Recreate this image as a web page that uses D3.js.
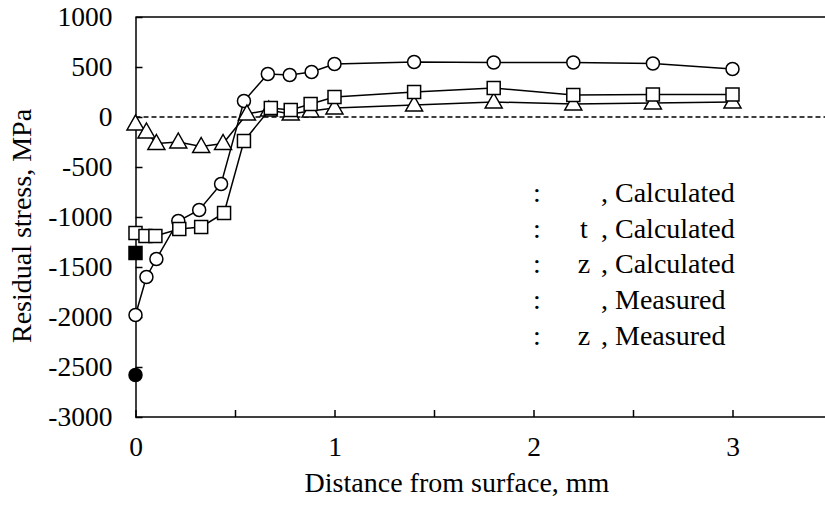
<!DOCTYPE html>
<html>
<head>
<meta charset="utf-8">
<script src="https://cdn.jsdelivr.net/npm/d3@7"></script>
<style>
  html, body { margin: 0; padding: 0; background: #fff; }
  svg { display: block; }
  text { font-family: "Liberation Serif", "Times New Roman", serif; fill: #000; }
</style>
</head>
<body>
<svg id="chart" width="825" height="507"></svg>
<script>
// ---- data ----
const circleX = [0, 0.055, 0.105, 0.215, 0.32, 0.43, 0.545, 0.665, 0.775, 0.885, 1.0, 1.4, 1.8, 2.2, 2.6, 3.0];
const circleY = [-1980, -1600, -1420, -1040, -930, -670, 160, 430, 420, 450, 530, 550, 545, 545, 535, 480];
const squareX = [0, 0.05, 0.1, 0.22, 0.33, 0.445, 0.545, 0.68, 0.78, 0.88, 1.0, 1.4, 1.8, 2.2, 2.6, 3.0];
const squareY = [-1160, -1190, -1190, -1120, -1100, -960, -240, 90, 70, 130, 200, 250, 290, 220, 225, 225];
const triangleX = [0, 0.055, 0.105, 0.215, 0.33, 0.44, 0.56, 0.67, 0.78, 0.88, 1.0, 1.4, 1.8, 2.2, 2.6, 3.0];
const triangleY = [-70, -150, -265, -250, -295, -265, 30, 70, 30, 60, 90, 120, 150, 130, 140, 150];
const measuredSquareX = [0];
const measuredSquareY = [-1360];
const measuredCircleX = [0];
const measuredCircleY = [-2580];

const xTicks = [0, 0.5, 1, 1.5, 2, 2.5, 3, 3.5];
const xTickLabels = ["0", "", "1", "", "2", "", "3", ""];
const yTicks = [-3000, -2500, -2000, -1500, -1000, -500, 0, 500, 1000];
const yTickLabels = ["-3000", "-2500", "-2000", "-1500", "-1000", "-500", "0", "500", "1000"];
const legendSymbols = ["", "t", "z", "", "z"];
const legendTexts = [", Calculated", ", Calculated", ", Calculated", ", Measured", ", Measured"];
const xTitle = "Distance from surface, mm";
const yTitle = "Residual stress, MPa";

// ---- layout ----
const svg = d3.select("#chart");
const x = d3.scaleLinear().domain([0, 3.5]).range([135.5, 832]);
const y = d3.scaleLinear().domain([-3000, 1000]).range([417, 17]);
const FS_TICK = 27.5, FS_LEG = 28, FS_TITLE = 28;

// frame top line
svg.append("line").attr("x1", x(0)).attr("x2", 825).attr("y1", y(1000)).attr("y2", y(1000))
  .attr("stroke", "#000").attr("stroke-width", 1.5);

// zero dashed line
svg.append("line").attr("x1", x(0)).attr("x2", 825).attr("y1", y(0)).attr("y2", y(0))
  .attr("stroke", "#000").attr("stroke-width", 1.3).attr("stroke-dasharray", "5,3");

// axes
const yAxis = svg.append("g").attr("transform", `translate(${x(0)},0)`)
  .call(d3.axisLeft(y).tickValues(yTicks).tickSizeInner(-7).tickSizeOuter(0).tickPadding(23)
    .tickFormat((d, i) => yTickLabels[i]));
const xAxis = svg.append("g").attr("transform", `translate(0,${y(-3000)})`)
  .call(d3.axisBottom(x).tickValues(xTicks).tickSizeInner(-7).tickSizeOuter(0).tickPadding(19)
    .tickFormat((d, i) => xTickLabels[i]));
[yAxis, xAxis].forEach(g => {
  g.selectAll(".domain").attr("stroke", "#000").attr("stroke-width", 1.5);
  g.selectAll(".tick line").attr("stroke", "#000").attr("stroke-width", 1.5);
  g.selectAll(".tick text").style("font-family", '"Liberation Serif", "Times New Roman", serif')
    .style("font-size", FS_TICK + "px").attr("fill", "#000");
});
xAxis.select(".domain").attr("d", `M${x(0)},0H825`);

// titles
svg.append("text").attr("x", 457).attr("y", 492).attr("text-anchor", "middle")
  .style("font-size", FS_TITLE + "px").text(xTitle);
svg.append("text").attr("transform", `translate(31,226) rotate(-90)`).attr("text-anchor", "middle")
  .style("font-size", FS_TITLE + "px").text(yTitle);

// series
const line = d3.line().x(d => x(d[0])).y(d => y(d[1]));
const zip = (a, b) => a.map((v, i) => [v, b[i]]);
const circles = zip(circleX, circleY);
const squares = zip(squareX, squareY);
const triangles = zip(triangleX, triangleY);

function drawLine(data) {
  svg.append("path").datum(data).attr("d", line).attr("fill", "none")
    .attr("stroke", "#000").attr("stroke-width", 1.5);
}
function drawMarkers(data, type, fill) {
  const g = svg.append("g");
  data.forEach(d => {
    const cx = x(d[0]), cy = y(d[1]);
    if (type === "circle") {
      g.append("circle").attr("cx", cx).attr("cy", cy).attr("r", 6.5)
        .attr("fill", fill).attr("stroke", "#000").attr("stroke-width", 1.5);
    } else if (type === "square") {
      g.append("rect").attr("x", cx - 6.5).attr("y", cy - 6.5).attr("width", 13).attr("height", 13)
        .attr("fill", fill).attr("stroke", "#000").attr("stroke-width", 1.5);
    } else {
      g.append("path").attr("d", `M${cx},${cy - 9}L${cx + 8.5},${cy + 6}L${cx - 8.5},${cy + 6}Z`)
        .attr("fill", fill).attr("stroke", "#000").attr("stroke-width", 1.5);
    }
  });
}

drawLine(circles);
drawMarkers(circles, "circle", "#fff");
drawLine(triangles);
drawMarkers(triangles, "triangle", "#fff");
drawLine(squares);
drawMarkers(squares, "square", "#fff");
drawMarkers(zip(measuredSquareX, measuredSquareY), "square", "#000");
drawMarkers(zip(measuredCircleX, measuredCircleY), "circle", "#000");

// legend (text only, symbols lost in original)
const legY0 = 202, legDy = 35.7;
legendTexts.forEach((t, i) => {
  const yy = legY0 + i * legDy;
  svg.append("text").attr("x", 533).attr("y", yy).style("font-size", FS_LEG + "px").text(":");
  svg.append("text").attr("x", 584).attr("y", yy).attr("text-anchor", "middle").style("font-size", FS_LEG + "px").text(legendSymbols[i]);
  svg.append("text").attr("x", 601).attr("y", yy).style("font-size", FS_LEG + "px").text(t);
});
</script>
</body>
</html>
